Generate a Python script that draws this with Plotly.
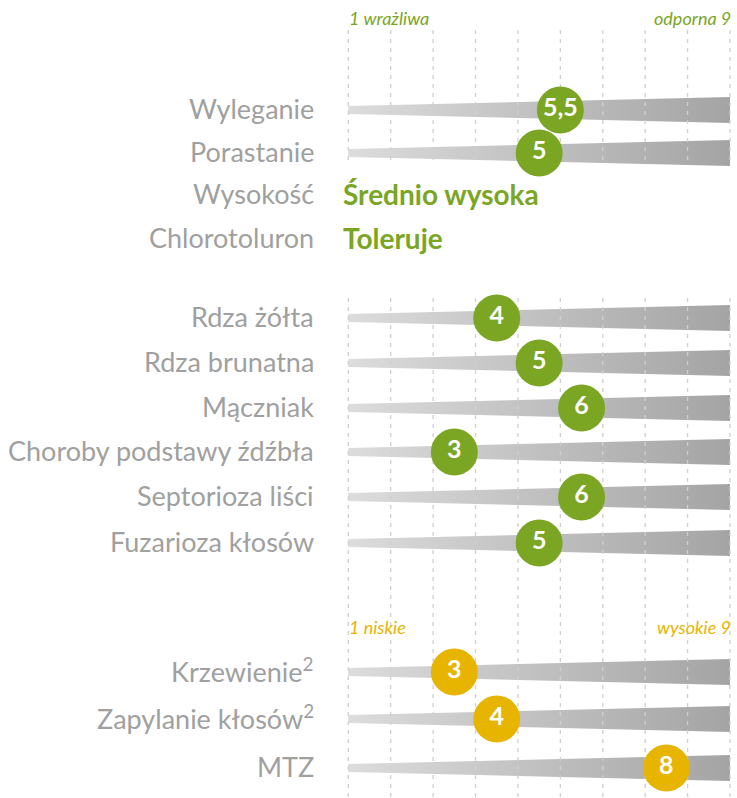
import plotly.graph_objects as go

# ---------------- data ----------------
top_labels = ["Wyleganie", "Porastanie"]
top_values = [5.5, 5]
text_labels = ["Wysokość", "Chlorotoluron"]
text_values = ["Średnio wysoka", "Toleruje"]
disease_labels = ["Rdza żółta", "Rdza brunatna", "Mączniak",
                  "Choroby podstawy źdźbła", "Septorioza liści", "Fuzarioza kłosów"]
disease_values = [4, 5, 6, 3, 6, 5]
trait_labels = ["Krzewienie<sup>2</sup>", "Zapylanie kłosów<sup>2</sup>", "MTZ"]
trait_values = [3, 4, 8]
scale_min, scale_max = 1, 9
resist_ends = ["1 wrażliwa", "odporna 9"]
level_ends = ["1 niskie", "wysokie 9"]

# ---------------- layout / style ----------------
W, H = 737, 798
PX_UNIT = 42.41          # pixels per scale unit
PX_LEFT = 348.3          # pixel of (scale_min - 0.5)
Y_TOP = [110, 153]
Y_TEXT = [195, 239]
Y_DIS = [318, 363, 408, 452, 497, 543]
Y_TRAIT = [672, 719, 768]
Y_END1, Y_END2 = 18, 627
GRID_SEGMENTS = [(30, 165), (298, 798)]

GREEN = "#7AA624"
YELLOW = "#E7B400"
LABEL_COL = "#a0a0a0"
FONT = "Lato"

x_lo = scale_min - 0.5
x_hi = scale_max + 0.5
x_range = [x_lo - PX_LEFT / PX_UNIT, x_lo + (W - PX_LEFT) / PX_UNIT]


def fmt(v):
    return f"{v:g}".replace(".", ",")


fig = go.Figure()

# wedges
for ys in [Y_TOP, Y_DIS, Y_TRAIT]:
    for y in ys:
        fig.add_trace(go.Scatter(
            x=[x_lo, x_hi, x_hi, x_lo, x_lo],
            y=[y - 4, y - 13, y + 13, y + 4, y - 4],
            mode="lines", fill="toself", line=dict(width=0),
            fillgradient=dict(type="horizontal",
                              colorscale=[[0, "#dcdcdc"], [1, "#a4a4a4"]]),
            hoverinfo="skip", showlegend=False))

# dashed gridlines
gx, gy = [], []
for k in range(scale_max - scale_min + 2):
    xv = x_lo + k
    for (a, b) in GRID_SEGMENTS:
        gx += [xv, xv, None]
        gy += [a, b, None]
fig.add_trace(go.Scatter(x=gx, y=gy, mode="lines",
                         line=dict(color="#d0d0d0", width=1.3, dash="4px,5px"),
                         hoverinfo="skip", showlegend=False))


def add_markers(values, ys, color):
    fig.add_trace(go.Scatter(
        x=values, y=ys, mode="markers+text",
        marker=dict(size=47, color=color, line=dict(width=0)),
        text=[f"<b>{fmt(v)}</b>" for v in values],
        textposition="middle center",
        textfont=dict(family=FONT, size=25, color="white"),
        hoverinfo="skip", showlegend=False))


add_markers(top_values, Y_TOP, GREEN)
add_markers(disease_values, Y_DIS, GREEN)
add_markers(trait_values, Y_TRAIT, YELLOW)

annotations = []
for labels, ys in [(top_labels, Y_TOP), (text_labels, Y_TEXT),
                   (disease_labels, Y_DIS), (trait_labels, Y_TRAIT)]:
    for lab, y in zip(labels, ys):
        annotations.append(dict(x=316 / W, xref="paper", y=y - 2, yref="y",
                                text=lab, showarrow=False, xanchor="right",
                                yanchor="middle",
                                font=dict(family=FONT, size=27, color=LABEL_COL)))

for val, y in zip(text_values, Y_TEXT):
    annotations.append(dict(x=341 / W, xref="paper", y=y - 1, yref="y",
                            text=f"<b>{val}</b>", showarrow=False,
                            xanchor="left", yanchor="middle",
                            font=dict(family=FONT, size=28, color=GREEN)))

for ends, y, col in [(resist_ends, Y_END1, GREEN), (level_ends, Y_END2, YELLOW)]:
    annotations.append(dict(x=x_lo - 0.03, xref="x", y=y, yref="y",
                            text=f"<i>{ends[0]}</i>", showarrow=False,
                            xanchor="left", yanchor="middle",
                            font=dict(family=FONT, size=18, color=col)))
    annotations.append(dict(x=x_hi + 0.08, xref="x", y=y, yref="y",
                            text=f"<i>{ends[1]}</i>", showarrow=False,
                            xanchor="right", yanchor="middle",
                            font=dict(family=FONT, size=18, color=col)))

fig.update_layout(
    width=W, height=H,
    margin=dict(l=0, r=0, t=0, b=0),
    paper_bgcolor="white", plot_bgcolor="white",
    showlegend=False,
    xaxis=dict(range=x_range, visible=False, fixedrange=True),
    yaxis=dict(range=[H, 0], visible=False, fixedrange=True),
    annotations=annotations,
)

fig.write_html("out.html",
               config={"displayModeBar": False, "staticPlot": True},
               post_script="document.body.style.margin='0';"
                           "document.body.style.overflow='hidden';")
